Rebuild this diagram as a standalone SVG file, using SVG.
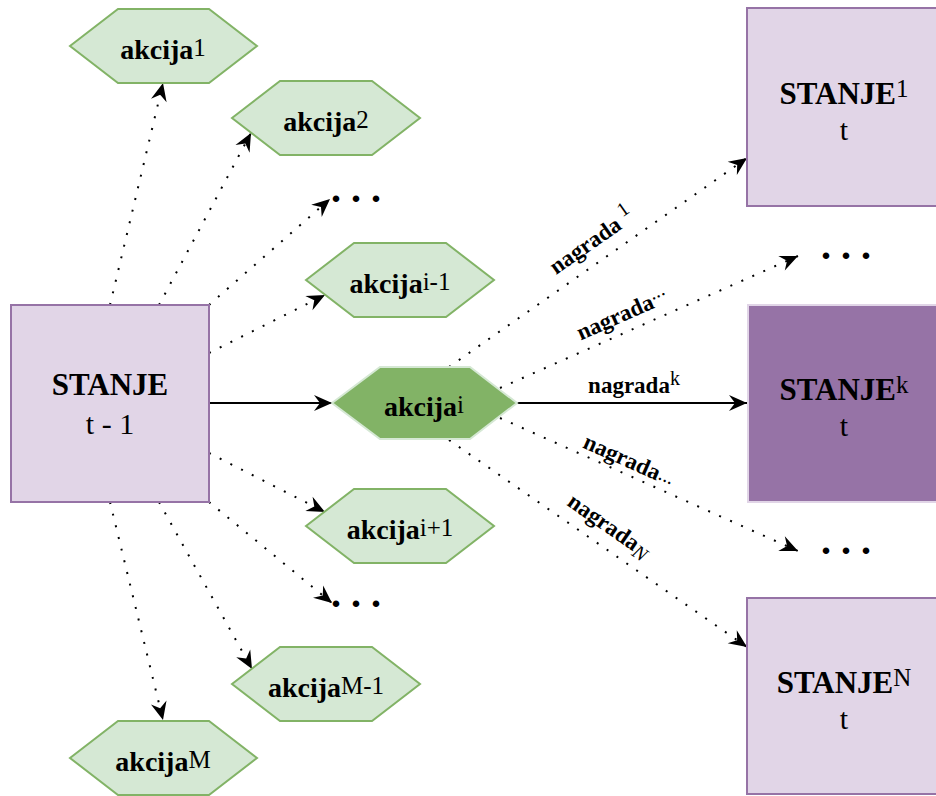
<svg xmlns="http://www.w3.org/2000/svg" width="936" height="796" viewBox="0 0 936 796">
<defs>
<style>
.st{fill:#e1d5e7;stroke:#9673a6;stroke-width:2}
.stk{fill:#9673a6;stroke:#e1d5e7;stroke-width:2}
.ak{fill:#d5e8d4;stroke:#82b366;stroke-width:2}
.aki{fill:#82b366;stroke:#d5e8d4;stroke-width:2}
.dot{fill:none;stroke:#000;stroke-width:2;stroke-dasharray:2 10}
.sol{fill:none;stroke:#000;stroke-width:2}
text, tspan{font-family:'Liberation Serif', serif}
text{fill:#000}
.ta{font-size:28px;font-weight:bold;text-anchor:middle}
.ts{font-size:31px;font-weight:bold;text-anchor:middle}
.tt{font-size:30px;text-anchor:middle}
.sup{font-size:25px;font-weight:normal}
.tn{font-size:23px;font-weight:bold;text-anchor:middle}
.nsup{font-size:20px;font-weight:normal}
.ell{font-size:40px;font-weight:bold;letter-spacing:10px}
</style>
<marker id="arr" viewBox="-19 -9 20 18" refX="0" refY="0" markerWidth="20" markerHeight="18" markerUnits="userSpaceOnUse" orient="auto">
<path d="M0,0 L-18,-8 L-12,0 L-18,8 Z" fill="#000"/>
</marker>
</defs>

<g id="connectors">
<path class="dot" d="M110,305 L163,83" marker-end="url(#arr)"/>
<path class="dot" d="M159,305 L251,133" marker-end="url(#arr)"/>
<path class="dot" d="M209,305 L330,199" marker-end="url(#arr)"/>
<path class="dot" d="M209,353 L325,295" marker-end="url(#arr)"/>
<path class="sol" d="M209,403 L332,403" marker-end="url(#arr)"/>
<path class="dot" d="M209,453 L325,512" marker-end="url(#arr)"/>
<path class="dot" d="M209,502 L332,603" marker-end="url(#arr)"/>
<path class="dot" d="M159,502 L252,669" marker-end="url(#arr)"/>
<path class="dot" d="M110,502 L163,720" marker-end="url(#arr)"/>
<path class="dot" d="M449,367 L747,158" marker-end="url(#arr)"/>
<path class="dot" d="M500,388 L798,256" marker-end="url(#arr)"/>
<path class="sol" d="M517,403 L747,403" marker-end="url(#arr)"/>
<path class="dot" d="M500,418 L798,551" marker-end="url(#arr)"/>
<path class="dot" d="M449,440 L747,647" marker-end="url(#arr)"/>
<text class="tn" x="596" y="247" transform="rotate(-35 596 247)">nagrada <tspan class="nsup" dy="-9">1</tspan></text>
<text class="tn" x="625" y="321" transform="rotate(-23.9 625 321)">nagrada<tspan class="nsup" font-size="16" dy="-8">...</tspan></text>
<text class="tn" x="634" y="393">nagrada<tspan class="nsup" dy="-8">k</tspan></text>
<text class="tn" x="626" y="467" transform="rotate(24 626 467)">nagrada<tspan class="nsup" font-size="16" dy="-2">...</tspan></text>
<text class="tn" x="605" y="532" transform="rotate(34.8 605 532)">nagrada<tspan class="nsup" font-size="21" font-style="italic" dy="4">N</tspan></text>
</g>

<g id="stanje-t-1">
<rect class="st" x="11" y="305" width="198" height="197"/>
<text class="ts" x="110" y="395">STANJE</text>
<text class="tt" x="110" y="434">t - 1</text>
</g>

<g id="akcija-1">
<path class="ak" d="M70,46 L118,9 L209,9 L257,46 L209,83 L118,83 Z"/>
<text class="ta" x="163" y="59">akcija<tspan class="sup" dy="-3">1</tspan></text>
</g>
<g id="akcija-2">
<path class="ak" d="M232,118 L280,81 L372,81 L420,118 L372,155 L280,155 Z"/>
<text class="ta" x="326" y="131">akcija<tspan class="sup" dy="-3">2</tspan></text>
</g>
<g id="dots-a-top">
<text class="ell" x="331" y="202">...</text>
</g>
<g id="akcija-i-1">
<path class="ak" d="M306,280 L354,243 L446,243 L494,280 L446,317 L354,317 Z"/>
<text class="ta" x="400" y="293">akcija<tspan class="sup" dy="-3">i-1</tspan></text>
</g>
<g id="akcija-i">
<path class="aki" d="M332,403 L380,367 L470,367 L517,403 L470,439 L380,439 Z"/>
<text class="ta" x="424" y="416">akcija<tspan class="sup" dy="-3">i</tspan></text>
</g>
<g id="akcija-i+1">
<path class="ak" d="M306,526 L354,489 L446,489 L494,526 L446,563 L354,563 Z"/>
<text class="ta" x="400" y="539">akcija<tspan class="sup" dy="-3">i+1</tspan></text>
</g>
<g id="dots-a-bottom">
<text class="ell" x="331" y="607">...</text>
</g>
<g id="akcija-M-1">
<path class="ak" d="M232,684 L280,647 L372,647 L420,684 L372,721 L280,721 Z"/>
<text class="ta" x="326" y="697">akcija<tspan class="sup" dy="-3">M-1</tspan></text>
</g>
<g id="akcija-M">
<path class="ak" d="M70,758 L118,721 L209,721 L257,758 L209,795 L118,795 Z"/>
<text class="ta" x="163" y="771">akcija<tspan class="sup" dy="-3">M</tspan></text>
</g>

<g id="stanje-1">
<rect class="st" x="747" y="8" width="198" height="198"/>
<text class="ts" x="844" y="104">STANJE<tspan class="sup" dy="-7">1</tspan></text>
<text class="tt" x="844" y="140">t</text>
</g>
<g id="dots-s-top">
<text class="ell" x="821" y="259">...</text>
</g>
<g id="stanje-k">
<rect class="stk" x="748" y="305" width="198" height="197"/>
<text class="ts" x="844" y="400">STANJE<tspan class="sup" dy="-7">k</tspan></text>
<text class="tt" x="844" y="436">t</text>
</g>
<g id="dots-s-bottom">
<text class="ell" x="821" y="554">...</text>
</g>
<g id="stanje-N">
<rect class="st" x="747" y="598" width="198" height="196"/>
<text class="ts" x="844" y="693">STANJE<tspan class="sup" dy="-7">N</tspan></text>
<text class="tt" x="844" y="729">t</text>
</g>
</svg>
